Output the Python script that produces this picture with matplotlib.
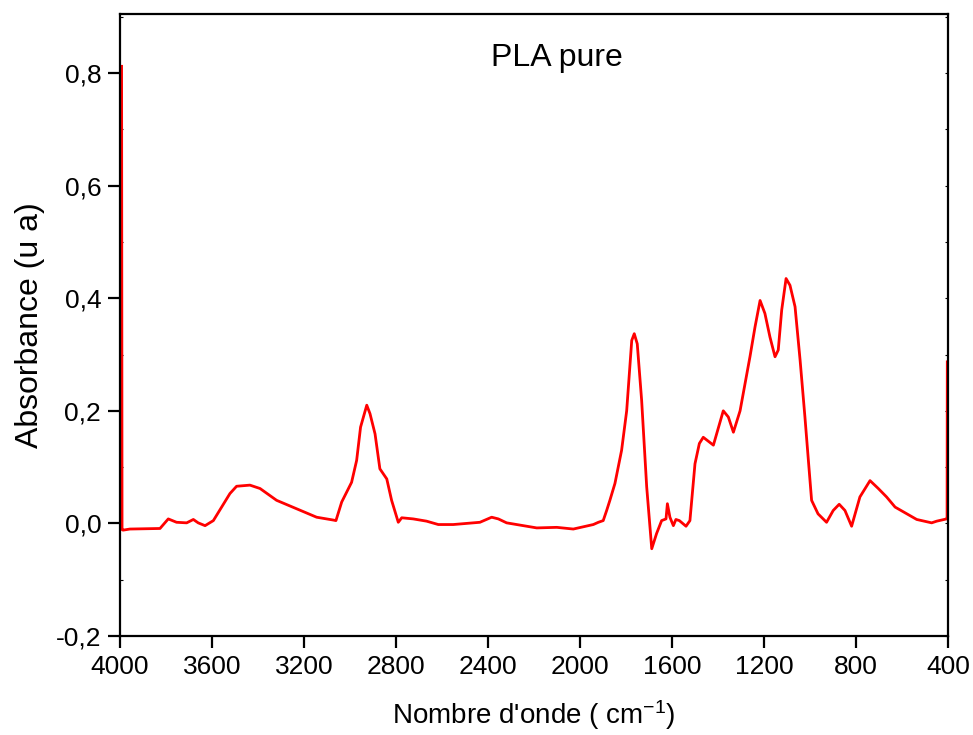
import matplotlib
matplotlib.use("Agg")
import matplotlib.pyplot as plt
from matplotlib.ticker import FuncFormatter, MultipleLocator

plt.rcParams['font.family'] = ['Liberation Sans', 'DejaVu Sans']
plt.rcParams['mathtext.default'] = 'regular'

# FTIR spectrum of pure PLA (wavenumber in cm-1, absorbance in a.u.)
wavenumber = [3993, 3991, 3987, 3957, 3826, 3790, 3754, 3710, 3681, 3660,
              3630, 3594, 3558, 3522, 3493, 3435, 3391, 3319, 3232, 3145,
              3073, 3061, 3036, 2993, 2971, 2954, 2927, 2913, 2891, 2870,
              2840, 2819, 2790, 2775, 2725, 2667, 2616, 2551, 2435, 2384,
              2355, 2319, 2188, 2101, 2029, 1942, 1920, 1899, 1884, 1870,
              1848, 1819, 1797, 1775, 1764, 1751, 1732, 1710, 1688, 1667,
              1645, 1626, 1620, 1609, 1594, 1583, 1568, 1539, 1522, 1500,
              1481, 1464, 1420, 1377, 1355, 1333, 1304, 1261, 1239, 1217,
              1196, 1174, 1152, 1138, 1123, 1104, 1087, 1065, 1043, 1022,
              1007, 993, 965, 928, 899, 873, 848, 819, 783, 739,
              703, 667, 630, 536, 471, 449, 406, 404, 403]
absorbance = [0.812, -0.011, -0.012, -0.010, -0.009, 0.008, 0.002, 0.001, 0.007, 0.001,
              -0.004, 0.005, 0.029, 0.053, 0.066, 0.068, 0.062, 0.041, 0.026, 0.011,
              0.006, 0.005, 0.038, 0.073, 0.112, 0.171, 0.210, 0.195, 0.159, 0.097,
              0.079, 0.041, 0.002, 0.010, 0.008, 0.004, -0.002, -0.002, 0.002, 0.011,
              0.008, 0.001, -0.008, -0.007, -0.010, -0.002, 0.002, 0.005, 0.023, 0.041,
              0.071, 0.130, 0.200, 0.325, 0.337, 0.319, 0.219, 0.065, -0.045, -0.018,
              0.005, 0.008, 0.035, 0.011, -0.004, 0.007, 0.005, -0.005, 0.005, 0.106,
              0.142, 0.153, 0.139, 0.200, 0.189, 0.162, 0.200, 0.296, 0.349, 0.396,
              0.373, 0.331, 0.296, 0.308, 0.379, 0.435, 0.423, 0.385, 0.290, 0.189,
              0.112, 0.041, 0.017, 0.002, 0.023, 0.034, 0.023, -0.005, 0.047, 0.076,
              0.062, 0.047, 0.029, 0.007, 0.001, 0.004, 0.008, 0.009, 0.287]

x_ticks = [4000, 3600, 3200, 2800, 2400, 2000, 1600, 1200, 800, 400]
y_ticks = [-0.2, 0.0, 0.2, 0.4, 0.6, 0.8]

fig = plt.figure(figsize=(9.73, 7.35), dpi=100)
ax = fig.add_axes([0.1233, 0.1347, 0.851, 0.8463])

ax.plot(wavenumber, absorbance, color='#ff0000', linewidth=2.0)

ax.set_xlim(4000, 400)
ax.set_ylim(-0.2, 0.905)
ax.set_xticks(x_ticks)
ax.set_yticks(y_ticks)
ax.yaxis.set_minor_locator(MultipleLocator(0.1))
ax.yaxis.set_major_formatter(FuncFormatter(lambda v, p: f"{v:.1f}".replace('.', ',')))

for s in ax.spines.values():
    s.set_linewidth(1.6)
ax.tick_params(axis='both', which='major', direction='out', length=8.5, width=1.6,
               labelsize=19, pad=5)
ax.tick_params(axis='y', which='minor', direction='in', length=2.5, width=0.8,
               left=True, right=True)

# small inward marks on the right spine
ax_r = ax.secondary_yaxis('right')
ax_r.set_yticks(y_ticks)
ax_r.tick_params(direction='in', length=2.5, width=0.8, labelright=False)
ax_r.spines['right'].set_visible(False)

ax.set_xlabel("Nombre d'onde ( cm$^{-1}$)", fontsize=20, labelpad=14)
ax.set_ylabel("Absorbance (u a)", fontsize=23, labelpad=8)
ax.text(0.528, 0.93, "PLA pure", transform=ax.transAxes, fontsize=23,
        ha='center', va='center')

fig.savefig("out.png", dpi=100)
